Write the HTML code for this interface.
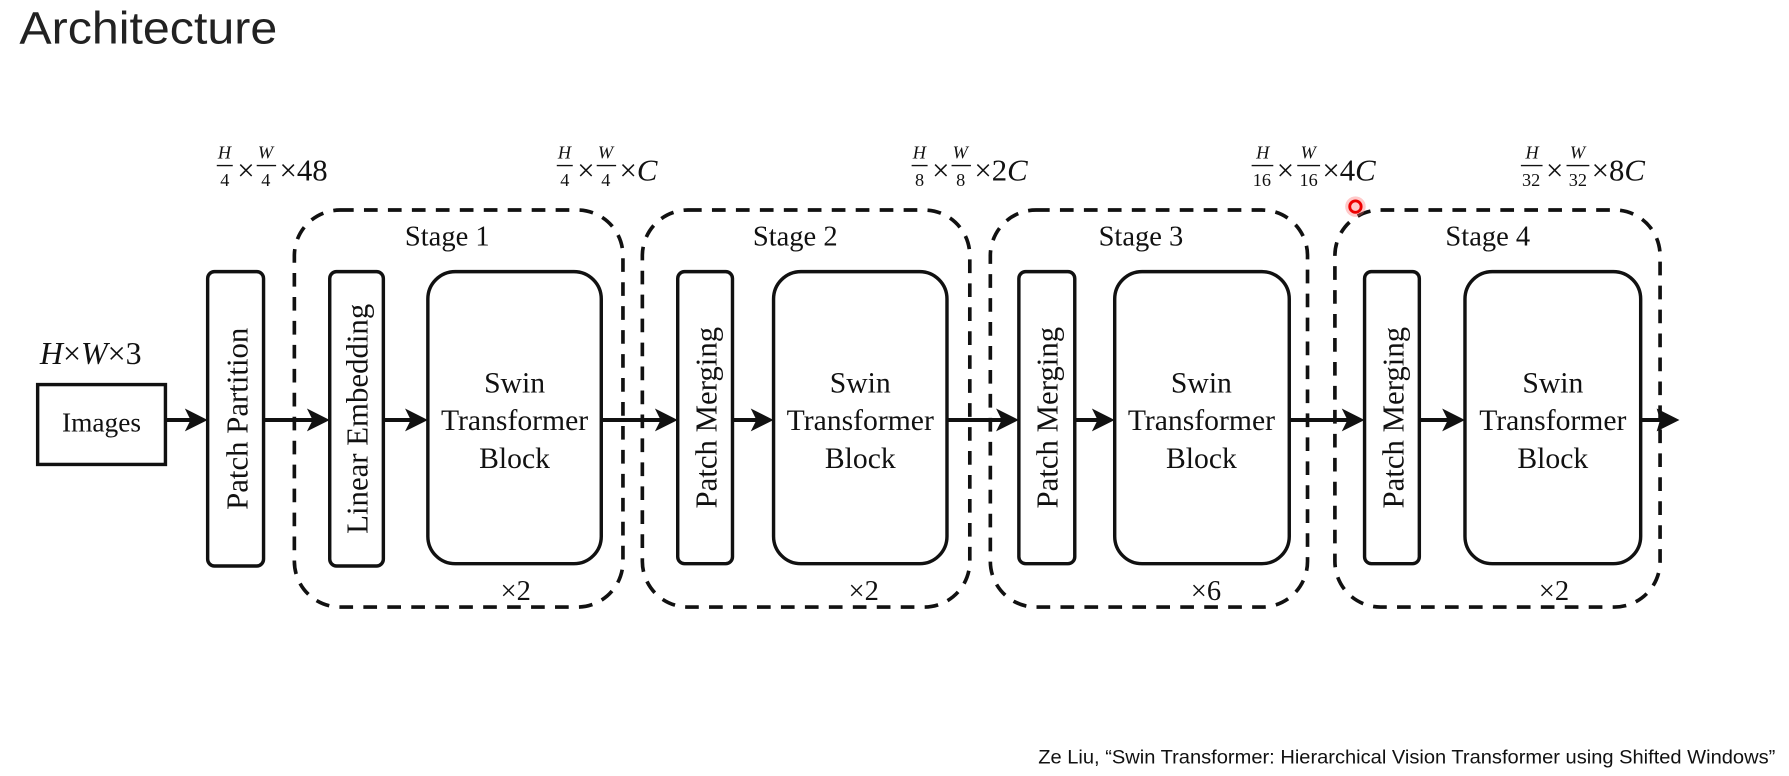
<!DOCTYPE html>
<html><head><meta charset="utf-8"><style>
html,body{margin:0;padding:0;background:#fff;}
svg{display:block;}
</style></head><body>
<svg width="1789" height="776" viewBox="0 0 1568 680" xmlns="http://www.w3.org/2000/svg">
<rect width="1568" height="680" fill="#fff"/>
<text x="17" y="38" font-family="Liberation Sans, sans-serif" font-size="40" fill="#222" textLength="226" lengthAdjust="spacingAndGlyphs">Architecture</text>

<g font-family="Liberation Serif, serif" fill="#111">
<g font-size="27">
 <g transform="translate(190,0)">
  <text x="1" y="139" font-size="16" font-style="italic">H</text><line x1="0" y1="145" x2="14" y2="145" stroke="#111" stroke-width="1.2"/><text x="3" y="163" font-size="16">4</text>
  <text x="18" y="158">×</text>
  <text x="36" y="139" font-size="16" font-style="italic">W</text><line x1="35" y1="145" x2="52" y2="145" stroke="#111" stroke-width="1.2"/><text x="39" y="163" font-size="16">4</text>
  <text x="55" y="158">×48</text>
 </g>
 <g transform="translate(488,0)">
  <text x="1" y="139" font-size="16" font-style="italic">H</text><line x1="0" y1="145" x2="14" y2="145" stroke="#111" stroke-width="1.2"/><text x="3" y="163" font-size="16">4</text>
  <text x="18" y="158">×</text>
  <text x="36" y="139" font-size="16" font-style="italic">W</text><line x1="35" y1="145" x2="52" y2="145" stroke="#111" stroke-width="1.2"/><text x="39" y="163" font-size="16">4</text>
  <text x="55" y="158">×<tspan font-style="italic">C</tspan></text>
 </g>
 <g transform="translate(799,0)">
  <text x="1" y="139" font-size="16" font-style="italic">H</text><line x1="0" y1="145" x2="14" y2="145" stroke="#111" stroke-width="1.2"/><text x="3" y="163" font-size="16">8</text>
  <text x="18" y="158">×</text>
  <text x="36" y="139" font-size="16" font-style="italic">W</text><line x1="35" y1="145" x2="52" y2="145" stroke="#111" stroke-width="1.2"/><text x="39" y="163" font-size="16">8</text>
  <text x="55" y="158">×2<tspan font-style="italic">C</tspan></text>
 </g>
 <g transform="translate(1097,0)">
  <text x="4" y="139" font-size="16" font-style="italic">H</text><line x1="0" y1="145" x2="19" y2="145" stroke="#111" stroke-width="1.2"/><text x="1" y="163" font-size="16">16</text>
  <text x="22" y="158">×</text>
  <text x="43" y="139" font-size="16" font-style="italic">W</text><line x1="40" y1="145" x2="60" y2="145" stroke="#111" stroke-width="1.2"/><text x="42" y="163" font-size="16">16</text>
  <text x="62" y="158">×4<tspan font-style="italic">C</tspan></text>
 </g>
 <g transform="translate(1333,0)">
  <text x="4" y="139" font-size="16" font-style="italic">H</text><line x1="0" y1="145" x2="19" y2="145" stroke="#111" stroke-width="1.2"/><text x="1" y="163" font-size="16">32</text>
  <text x="22" y="158">×</text>
  <text x="43" y="139" font-size="16" font-style="italic">W</text><line x1="40" y1="145" x2="60" y2="145" stroke="#111" stroke-width="1.2"/><text x="42" y="163" font-size="16">32</text>
  <text x="62" y="158">×8<tspan font-style="italic">C</tspan></text>
 </g>
 <text x="35" y="319" font-size="28"><tspan font-style="italic">H</tspan>×<tspan font-style="italic">W</tspan>×3</text>
</g>

<g fill="none" stroke="#111" stroke-width="3.2" stroke-dasharray="12,9">
 <rect x="258" y="184" width="288" height="348" rx="40"/>
 <rect x="563" y="184" width="287" height="348" rx="40"/>
 <rect x="868" y="184" width="278" height="348" rx="40"/>
 <rect x="1170" y="184" width="285" height="348" rx="40"/>
</g>
<g font-size="25" text-anchor="middle">
 <text x="392" y="215">Stage 1</text>
 <text x="697" y="215">Stage 2</text>
 <text x="1000" y="215">Stage 3</text>
 <text x="1304" y="215">Stage 4</text>
 <text x="452" y="526">×2</text>
 <text x="757" y="526">×2</text>
 <text x="1057" y="526">×6</text>
 <text x="1362" y="526">×2</text>
</g>

<g fill="#fff" stroke="#111" stroke-width="3">
 <rect x="33" y="337" width="112" height="70"/>
 <rect x="182" y="238" width="49" height="258" rx="6"/>
 <rect x="289" y="238" width="47" height="258" rx="6"/>
 <rect x="375" y="238" width="152" height="256" rx="24"/>
 <rect x="594" y="238" width="48" height="256" rx="6"/>
 <rect x="678" y="238" width="152" height="256" rx="24"/>
 <rect x="893" y="238" width="49" height="256" rx="6"/>
 <rect x="977" y="238" width="153" height="256" rx="24"/>
 <rect x="1196" y="238" width="48" height="256" rx="6"/>
 <rect x="1284" y="238" width="154" height="256" rx="24"/>
</g>
<text x="89" y="378" font-size="24" text-anchor="middle">Images</text>
<g font-size="27" text-anchor="middle">
 <text transform="translate(217,367) rotate(-90)">Patch Partition</text>
 <text transform="translate(322,367) rotate(-90)">Linear Embedding</text>
 <text transform="translate(628,366) rotate(-90)">Patch Merging</text>
 <text transform="translate(927,366) rotate(-90)">Patch Merging</text>
 <text transform="translate(1230,366) rotate(-90)">Patch Merging</text>
</g>
<g font-size="26" text-anchor="middle">
 <text x="451" y="344">Swin</text><text x="451" y="377">Transformer</text><text x="451" y="410">Block</text>
 <text x="754" y="344">Swin</text><text x="754" y="377">Transformer</text><text x="754" y="410">Block</text>
 <text x="1053" y="344">Swin</text><text x="1053" y="377">Transformer</text><text x="1053" y="410">Block</text>
 <text x="1361" y="344">Swin</text><text x="1361" y="377">Transformer</text><text x="1361" y="410">Block</text>
</g>

<g stroke="#111" stroke-width="3.5" fill="none">
 <line x1="145" y1="368" x2="170" y2="368"/>
 <line x1="231" y1="368" x2="277" y2="368"/>
 <line x1="336" y1="368" x2="363" y2="368"/>
 <line x1="527" y1="368" x2="582" y2="368"/>
 <line x1="642" y1="368" x2="666" y2="368"/>
 <line x1="830" y1="368" x2="881" y2="368"/>
 <line x1="942" y1="368" x2="965" y2="368"/>
 <line x1="1130" y1="368" x2="1184" y2="368"/>
 <line x1="1244" y1="368" x2="1272" y2="368"/>
 <line x1="1438" y1="368" x2="1458" y2="368"/>
</g>
<g fill="#111">
 <path d="M182,368 l-20,-10 l5,10 l-5,10 z"/>
 <path d="M289,368 l-20,-10 l5,10 l-5,10 z"/>
 <path d="M375,368 l-20,-10 l5,10 l-5,10 z"/>
 <path d="M594,368 l-20,-10 l5,10 l-5,10 z"/>
 <path d="M678,368 l-20,-10 l5,10 l-5,10 z"/>
 <path d="M893,368 l-20,-10 l5,10 l-5,10 z"/>
 <path d="M977,368 l-20,-10 l5,10 l-5,10 z"/>
 <path d="M1196,368 l-20,-10 l5,10 l-5,10 z"/>
 <path d="M1284,368 l-20,-10 l5,10 l-5,10 z"/>
 <path d="M1472,368 l-20,-10 l3,10 l-3,10 z"/>
</g>
</g>

<circle cx="1188" cy="181" r="9" fill="#f66" opacity="0.35"/>
<circle cx="1188" cy="181" r="5" fill="none" stroke="#e00" stroke-width="2.5"/>

<text x="1556" y="669" font-family="Liberation Sans, sans-serif" font-size="17" fill="#111" text-anchor="end" textLength="646" lengthAdjust="spacingAndGlyphs">Ze Liu, “Swin Transformer: Hierarchical Vision Transformer using Shifted Windows”</text>
</svg>
</body></html>
